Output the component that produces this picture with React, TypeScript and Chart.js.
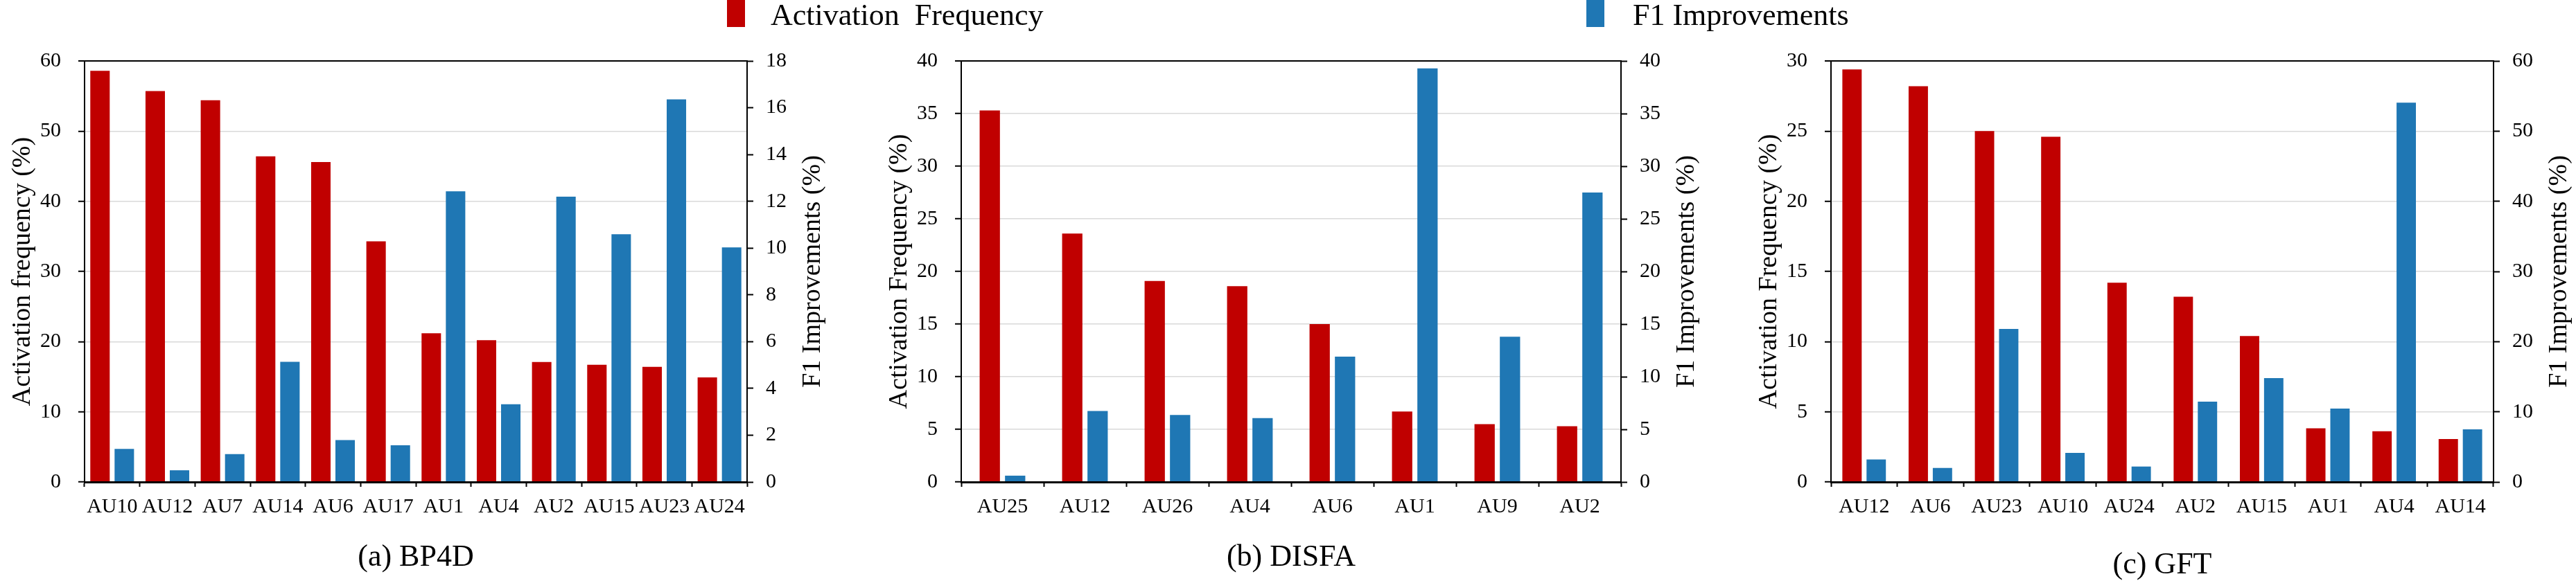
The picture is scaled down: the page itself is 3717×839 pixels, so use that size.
import React, { useEffect, useRef } from 'react';
import { Chart, registerables } from 'chart.js';

Chart.register(...registerables);

const FONT = '"Liberation Serif", "Times New Roman", Times, serif';
const RED = '#C00000';
const BLUE = '#1F77B4';
const GRID = '#d9d9d9';

const legendLabels = ['Activation  Frequency', 'F1 Improvements'];
const rightTitle = 'F1 Improvements (%)';

// (a) BP4D
const bp4dLabels = ['AU10', 'AU12', 'AU7', 'AU14', 'AU6', 'AU17', 'AU1', 'AU4', 'AU2', 'AU15', 'AU23', 'AU24'];
const bp4dFreq = [58.6, 55.7, 54.4, 46.4, 45.6, 34.3, 21.2, 20.2, 17.1, 16.7, 16.4, 14.9];
const bp4dF1 = [1.41, 0.5, 1.19, 5.14, 1.79, 1.57, 12.43, 3.32, 12.2, 10.59, 16.36, 10.03];

// (b) DISFA
const disfaLabels = ['AU25', 'AU12', 'AU26', 'AU4', 'AU6', 'AU1', 'AU9', 'AU2'];
const disfaFreq = [35.3, 23.6, 19.1, 18.6, 15.0, 6.7, 5.5, 5.3];
const disfaF1 = [0.6, 6.75, 6.36, 6.07, 11.9, 39.3, 13.8, 27.5];

// (c) GFT
const gftLabels = ['AU12', 'AU6', 'AU23', 'AU10', 'AU24', 'AU2', 'AU15', 'AU1', 'AU4', 'AU14'];
const gftFreq = [29.4, 28.2, 25.0, 24.6, 14.2, 13.2, 10.4, 3.83, 3.62, 3.06];
const gftF1 = [3.2, 2.0, 21.8, 4.15, 2.2, 11.45, 14.8, 10.46, 54.05, 7.5];

const bp4dAxes = { leftMax: 60, leftStep: 10, rightMax: 18, rightStep: 2 };
const disfaAxes = { leftMax: 40, leftStep: 5, rightMax: 40, rightStep: 5 };
const gftAxes = { leftMax: 30, leftStep: 5, rightMax: 60, rightStep: 10 };

const TICK_SIZE = 30;

const rightTitlePlugin = {
  id: 'rightTitle',
  afterDraw(chart: any, _args: any, opts: any) {
    const { ctx, chartArea } = chart;
    ctx.save();
    ctx.translate(chartArea.right + opts.offset, (chartArea.top + chartArea.bottom) / 2);
    ctx.rotate(-Math.PI / 2);
    ctx.font = `38px ${FONT}`;
    ctx.fillStyle = '#000';
    ctx.textAlign = 'center';
    ctx.textBaseline = 'middle';
    ctx.fillText(opts.text, 0, 0);
    ctx.restore();
  },
};

type PanelProps = {
  left: number;
  width: number;
  rightWidth: number;
  labels: string[];
  freq: number[];
  f1: number[];
  axes: { leftMax: number; leftStep: number; rightMax: number; rightStep: number };
  leftTitle: string;
  subtitle: string;
  subtitlePad: number;
  catPct: number;
};

function Panel(p: PanelProps) {
  const ref = useRef<HTMLCanvasElement>(null);
  useEffect(() => {
    if (!ref.current) return;
    const chart = new Chart(ref.current, {
      type: 'bar',
      data: {
        labels: p.labels,
        datasets: [
          {
            label: legendLabels[0],
            data: p.freq,
            backgroundColor: RED,
            borderWidth: 0,
            yAxisID: 'y',
            categoryPercentage: p.catPct,
            barPercentage: 0.8,
          },
          {
            label: legendLabels[1],
            data: p.f1,
            backgroundColor: BLUE,
            borderWidth: 0,
            yAxisID: 'y1',
            categoryPercentage: p.catPct,
            barPercentage: 0.8,
          },
        ],
      },
      options: {
        responsive: false,
        animation: false,
        layout: { padding: { top: 88, left: 0, right: 0, bottom: 0 } },
        plugins: {
          legend: { display: false },
          tooltip: { enabled: false },
          rightTitle: { text: rightTitle, offset: 95 },
        } as any,
        scales: {
          x: {
            offset: true,
            grid: {
              offset: true,
              drawOnChartArea: false,
              tickLength: 7,
              tickColor: '#000',
              tickWidth: 2,
            },
            border: { color: '#000', width: 3, z: 1 },
            ticks: {
              font: { family: FONT, size: TICK_SIZE },
              color: '#000',
              padding: 11,
              autoSkip: false,
              maxRotation: 0,
              minRotation: 0,
            },
            title: {
              display: true,
              text: p.subtitle,
              color: '#000',
              font: { family: FONT, size: 44, lineHeight: 1 },
              padding: { top: 0, bottom: p.subtitlePad },
            },
            afterFit: (s: any) => {
              s.height = 143;
            },
          },
          y: {
            position: 'left',
            min: 0,
            max: p.axes.leftMax,
            ticks: {
              stepSize: p.axes.leftStep,
              font: { family: FONT, size: TICK_SIZE },
              color: '#000',
              padding: 25,
            },
            grid: {
              color: (c: any) => (c.tick && c.tick.value === p.axes.leftMax ? '#000' : GRID),
              lineWidth: (c: any) => (c.tick && c.tick.value === p.axes.leftMax ? 2 : 1.5),
              tickColor: '#000',
              tickLength: 9,
              tickWidth: 2,
            },
            border: { color: '#000', width: 2 },
            title: {
              display: true,
              text: p.leftTitle,
              color: '#000',
              font: { family: FONT, size: 38 },
              padding: { top: 10, bottom: 0 },
            },
            afterFit: (s: any) => {
              s.width = 122;
            },
          },
          y1: {
            position: 'right',
            min: 0,
            max: p.axes.rightMax,
            ticks: {
              stepSize: p.axes.rightStep,
              font: { family: FONT, size: TICK_SIZE },
              color: '#000',
              padding: 18,
            },
            grid: {
              drawOnChartArea: false,
              tickColor: '#000',
              tickLength: 9,
              tickWidth: 2,
            },
            border: { color: '#000', width: 2 },
            afterFit: (s: any) => {
              s.width = p.rightWidth;
            },
          },
        },
      } as any,
      plugins: [rightTitlePlugin as any],
    });
    return () => chart.destroy();
  }, []);
  return (
    <canvas
      ref={ref}
      width={p.width}
      height={839}
      style={{ position: 'absolute', left: p.left, top: 0, width: p.width, height: 839 }}
    />
  );
}

export default function App() {
  const textStyle: React.CSSProperties = {
    position: 'absolute',
    top: 0,
    font: `44px ${FONT}`,
    lineHeight: '44px',
    whiteSpace: 'pre',
    color: '#000',
  };
  return (
    <div style={{ position: 'absolute', left: 0, top: 0, width: 3717, height: 839, background: '#fff', overflow: 'hidden' }}>
      <Panel
        left={0}
        width={1218}
        rightWidth={140}
        labels={bp4dLabels}
        freq={bp4dFreq}
        f1={bp4dF1}
        axes={bp4dAxes}
        leftTitle="Activation frequency (%)"
        subtitle="(a) BP4D"
        subtitlePad={12}
        catPct={0.88}
      />
      <Panel
        left={1265}
        width={1214}
        rightWidth={140}
        labels={disfaLabels}
        freq={disfaFreq}
        f1={disfaF1}
        axes={disfaAxes}
        leftTitle="Activation Frequency (%)"
        subtitle="(b) DISFA"
        subtitlePad={12}
        catPct={0.615}
      />
      <Panel
        left={2520}
        width={1197}
        rightWidth={119}
        labels={gftLabels}
        freq={gftFreq}
        f1={gftF1}
        axes={gftAxes}
        leftTitle="Activation Frequency (%)"
        subtitle="(c) GFT"
        subtitlePad={1}
        catPct={0.73}
      />
      <div style={{ position: 'absolute', left: 1049, top: 0, width: 26, height: 39, background: RED, zIndex: 2 }} />
      <div style={{ ...textStyle, left: 1112, zIndex: 2 }}>{legendLabels[0]}</div>
      <div style={{ position: 'absolute', left: 2289, top: 0, width: 26, height: 39, background: BLUE, zIndex: 2 }} />
      <div style={{ ...textStyle, left: 2356, zIndex: 2 }}>{legendLabels[1]}</div>
    </div>
  );
}
